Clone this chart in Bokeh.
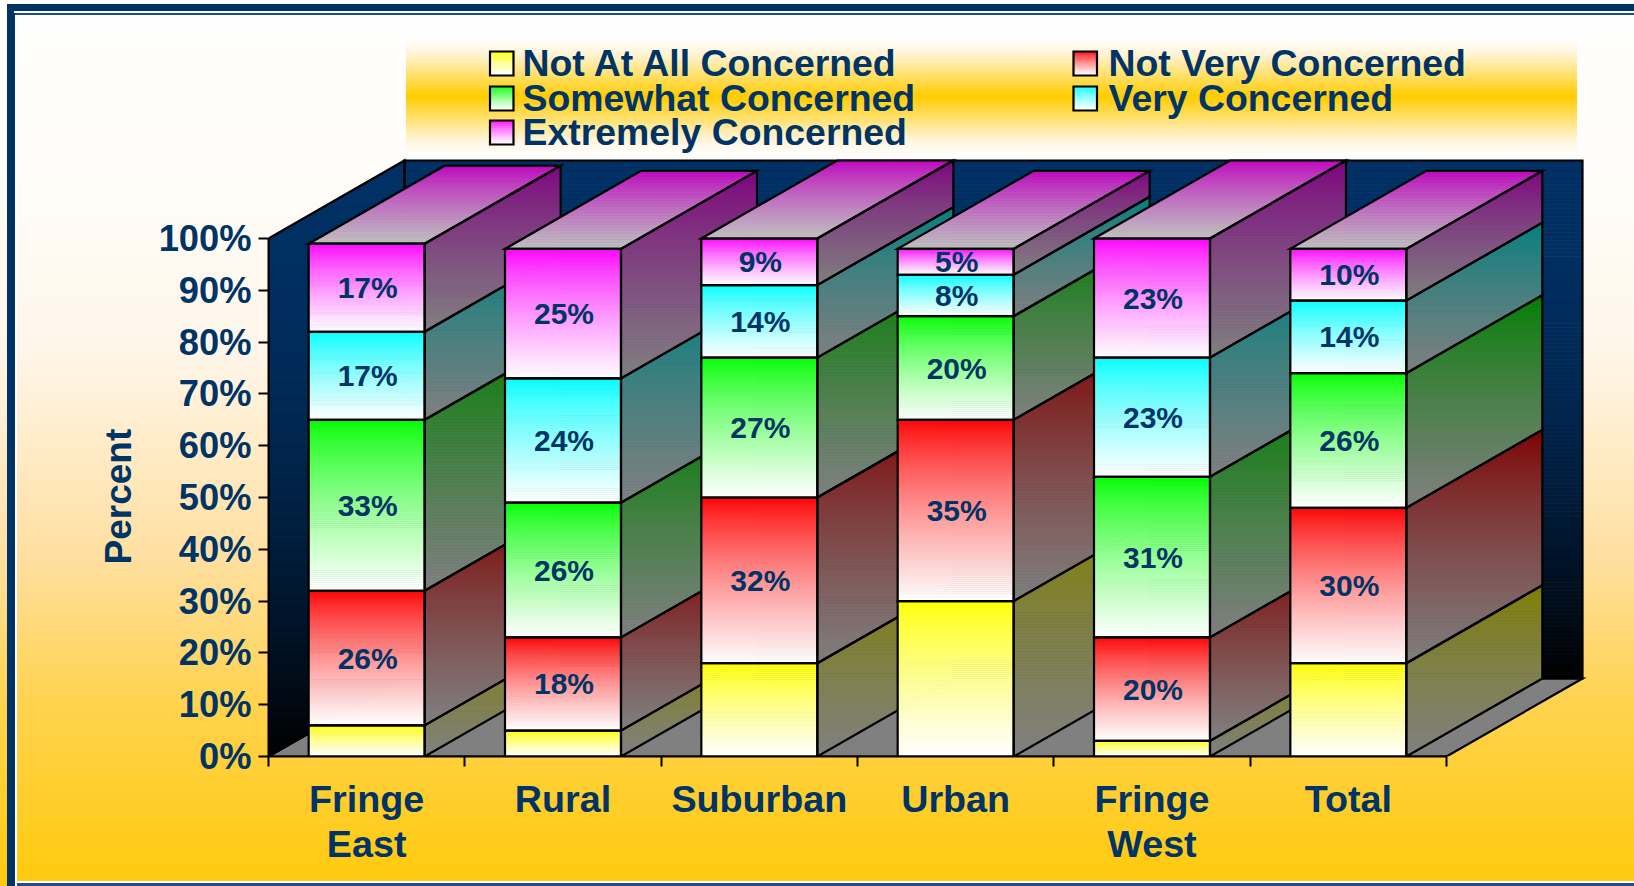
import math
from bokeh.plotting import figure
from bokeh.models import Range1d, LinearAxis, FixedTicker, PrintfTickFormatter, Title
from bokeh.core.properties import value
from bokeh.embed import file_html
from bokeh.resources import INLINE

categories = ["Fringe\nEast", "Rural", "Suburban", "Urban", "Fringe\nWest", "Total"]
series_names = ["Not At All Concerned", "Not Very Concerned", "Somewhat Concerned", "Very Concerned", "Extremely Concerned"]
not_at_all = [6, 5, 18, 30, 3, 18]
not_very = [26, 18, 32, 35, 20, 30]
somewhat = [33, 26, 27, 20, 31, 26]
very = [17, 24, 14, 8, 23, 14]
extremely = [17, 25, 9, 5, 23, 10]
y_ticks = [0, 10, 20, 30, 40, 50, 60, 70, 80, 90, 100]
series = [not_at_all, not_very, somewhat, very, extremely]
labelled = [False, True, True, True, True]
rgb = [(255, 255, 0), (255, 0, 0), (0, 255, 0), (0, 255, 255), (255, 0, 255)]

W, H = 1634, 886
LEFT, BOTTOM = 268, 756          # pixel position of the origin
RIGHT, TOP = 1600, 20            # frame edge in pixels
CAT_PX = (1446 - 268) / 6        # pixels per category
PCT_PX = 5.18                    # pixels per percent
DX = 136 / CAT_PX                # depth, data units
DY = 78 / PCT_PX
BAR_W = 116 / CAT_PX
NAVY = "#003366"
FONT = "Liberation Sans"
GAMMA = 0.78

def X(px):
    return (px - LEFT) / CAT_PX

def Y(py):
    return (BOTTOM - py) / PCT_PX

def hexc(c):
    return "#%02x%02x%02x" % tuple(int(round(max(0, min(255, v)))) for v in c)

def mix(a, b, t):
    return tuple(a[i] + (b[i] - a[i]) * t for i in range(3))

def clip_band(poly, lo, hi):
    def clip(pts, keep, cross):
        out = []
        for i in range(len(pts)):
            a, b = pts[i], pts[(i + 1) % len(pts)]
            if keep(a):
                out.append(a)
            if keep(a) != keep(b):
                t = (cross - a[1]) / (b[1] - a[1])
                out.append((a[0] + (b[0] - a[0]) * t, cross))
        return out
    pts = clip(poly, lambda q: q[1] >= lo, lo)
    if pts:
        pts = clip(pts, lambda q: q[1] <= hi, hi)
    return pts

strips = dict(xs=[], ys=[], c=[])

def gradient(poly, top, bottom, step_px=2.0, gamma=GAMMA):
    ys = [q[1] for q in poly]
    y0, y1 = min(ys), max(ys)
    n = max(1, int(math.ceil((y1 - y0) * PCT_PX / step_px)))
    for k in range(n):
        lo = y1 - (k + 1) * (y1 - y0) / n
        hi = y1 - k * (y1 - y0) / n
        pts = clip_band(poly, lo, hi)
        if len(pts) >= 3:
            strips["xs"].append([q[0] for q in pts])
            strips["ys"].append([q[1] for q in pts])
            strips["c"].append(hexc(mix(top, bottom, ((k + 0.5) / n) ** gamma)))

def flush(p):
    p.patches("xs", "ys", source=dict(strips), fill_color="c", line_color="c", line_width=0.8)
    strips["xs"], strips["ys"], strips["c"] = [], [], []

layers = []
def layer(css, x, y, w, h):
    layers.append(f"{css} {x}px {y}px / {w}px {h}px no-repeat")
def solid(col, x, y, w, h):
    layer(f"linear-gradient({col},{col})", x, y, w, h)

solid(NAVY, 7, 4, W - 7, 7)
solid("#ffffff", 14, 11, W - 14, 2)
solid("#1f4f82", 15, 13, W - 15, 2)
solid(NAVY, 7, 4, 8, H - 4)
solid("#ffffff", 15, 13, 2, H - 13)
solid("#1f4f82", 16, 15, 1, H - 15)
solid("#1f4f82", 15, 883, W - 15, 3)
solid("#ffffff", 15, 881, W - 15, 2)
layer("linear-gradient(#fffdfb,#fff4d8 12%,#ffcc00 50%,#fff4d8 88%,#fffdfb)", 406, 40, 1171, 113)
layers.append("linear-gradient(#ffffff 0, #fffdfa 160px, #fff6ea 350px, #ffdf9f 560px, #ffd350 700px, #ffca0e 880px) no-repeat")

p = figure(width=W, height=H, output_backend="svg", toolbar_location=None,
           x_range=Range1d(X(LEFT), X(RIGHT)), y_range=Range1d(Y(BOTTOM), Y(TOP)),
           x_axis_type=None, y_axis_type=None,
           min_border_left=LEFT, min_border_right=W - RIGHT,
           min_border_top=TOP, min_border_bottom=H - BOTTOM,
           border_fill_color=None, background_fill_color=None,
           outline_line_color=None,
           styles={"position": "fixed", "left": "0", "top": "0",
                   "background": ",".join(layers)})
p.grid.visible = False

n_cat = len(categories)
lbl = dict(x=[], y=[], text=[])
edges = dict(xs=[], ys=[])

def outline(poly):
    edges["xs"].append([q[0] for q in poly])
    edges["ys"].append([q[1] for q in poly])

def draw_edges():
    p.patches("xs", "ys", source=dict(edges), fill_color=None, line_color="black", line_width=2.2, line_join="miter")
    edges["xs"], edges["ys"] = [], []

# walls and floor
wall_top, wall_bot = (0, 48, 100), (0, 0, 0)
left_wall = [(0, 0), (0, 100), (DX, 100 + DY), (DX, DY)]
back_wall = [(DX, DY), (DX, 100 + DY), (n_cat + DX, 100 + DY), (n_cat + DX, DY)]
floor = [(0, 0), (n_cat, 0), (n_cat + DX, DY), (DX, DY)]
gradient(left_wall, wall_top, wall_bot, 4, 2.0)
gradient(back_wall, wall_top, wall_bot, 4, 2.0)
gradient(floor, (128, 128, 128), (128, 128, 128), 80)
flush(p)
for poly in (left_wall, back_wall, floor):
    outline(poly)
draw_edges()

# bars
for i in range(n_cat):
    x0 = i + 0.5 - BAR_W / 2
    x1 = x0 + BAR_W
    base = 0
    faces = []
    for s, vals in enumerate(series):
        v = vals[i]
        side = [(x1, base), (x1, base + v), (x1 + DX, base + v + DY), (x1 + DX, base + DY)]
        gradient(side, mix(rgb[s], (0, 0, 0), 0.5), (128, 128, 128), 3)
        faces.append(side)
        base += v
    top = [(x0, base), (x1, base), (x1 + DX, base + DY), (x0 + DX, base + DY)]
    gradient(top, mix(rgb[4], (0, 0, 0), 0.25), (192, 192, 192), 3)
    faces.append(top)
    base = 0
    for s, vals in enumerate(series):
        v = vals[i]
        front = [(x0, base), (x1, base), (x1, base + v), (x0, base + v)]
        gradient(front, rgb[s], (255, 255, 255), 2)
        faces.append(front)
        if labelled[s]:
            lbl["x"].append(i + 0.5)
            lbl["y"].append(base + v / 2)
            lbl["text"].append(f"{v}%")
        base += v
    flush(p)
    for f in faces:
        outline(f)
    draw_edges()

p.text("x", "y", text="text", source=lbl, text_font=value(FONT), text_font_style="bold",
       text_font_size="30px", text_color=NAVY, text_align="center", text_baseline="middle",
       x_offset=1, y_offset=0)

# legend
legend_pos = [(489.5, 63, 522), (1073, 63, 1108), (489.5, 98, 522), (1073, 98, 1108), (489.5, 132, 522)]
leg_txt = dict(x=[], y=[], text=[])
for s, name in enumerate(series_names):
    sx, sy, tx = legend_pos[s]
    sw = [(X(sx), Y(sy + 12)), (X(sx + 23.5), Y(sy + 12)), (X(sx + 23.5), Y(sy - 12)), (X(sx), Y(sy - 12))]
    gradient(sw, rgb[s], (255, 255, 255), 2)
    outline(sw)
    leg_txt["x"].append(X(tx))
    leg_txt["y"].append(Y(sy - 1))
    leg_txt["text"].append(name)
flush(p)
draw_edges()
p.text("x", "y", text="text", source=leg_txt, text_font=value(FONT), text_font_style="bold",
       text_font_size="37.4px", text_color=NAVY, text_align="left", text_baseline="middle")

# axes
yaxis = LinearAxis(ticker=FixedTicker(ticks=y_ticks), bounds=(0, 100),
                   formatter=PrintfTickFormatter(format="%d%%"),
                   major_label_text_font=FONT, major_label_text_font_style="bold",
                   major_label_text_font_size="36.3px", major_label_text_color=NAVY,
                   major_label_standoff=7, major_tick_in=0, major_tick_out=10,
                   major_tick_line_color="black", major_tick_line_width=2,
                   minor_tick_line_color=None, axis_line_color="black", axis_line_width=2)
p.add_layout(yaxis, "left")
# the axis title is centred on the 0-100% scale, not on the taller frame
p.add_layout(Title(text="Percent", align="left", offset=192, standoff=34,
                   text_font=FONT, text_font_style="bold", text_font_size="37px",
                   text_color=NAVY), "left")

centers = [i + 0.5 for i in range(n_cat)]
xaxis = LinearAxis(ticker=FixedTicker(ticks=centers, minor_ticks=list(range(n_cat + 1))),
                   bounds=(0, n_cat),
                   major_label_overrides={c: t for c, t in zip(centers, categories)},
                   major_label_text_font=FONT, major_label_text_font_style="bold",
                   major_label_text_font_size="37.7px", major_label_text_color=NAVY,
                   major_label_text_line_height=1.09,
                   major_label_standoff=11, major_tick_line_color=None,
                   major_tick_in=0, major_tick_out=0,
                   minor_tick_in=0, minor_tick_out=10,
                   minor_tick_line_color="black", minor_tick_line_width=2,
                   axis_line_color="black", axis_line_width=2)
p.add_layout(xaxis, "below")

open("out.html", "w").write(file_html(p, INLINE))
